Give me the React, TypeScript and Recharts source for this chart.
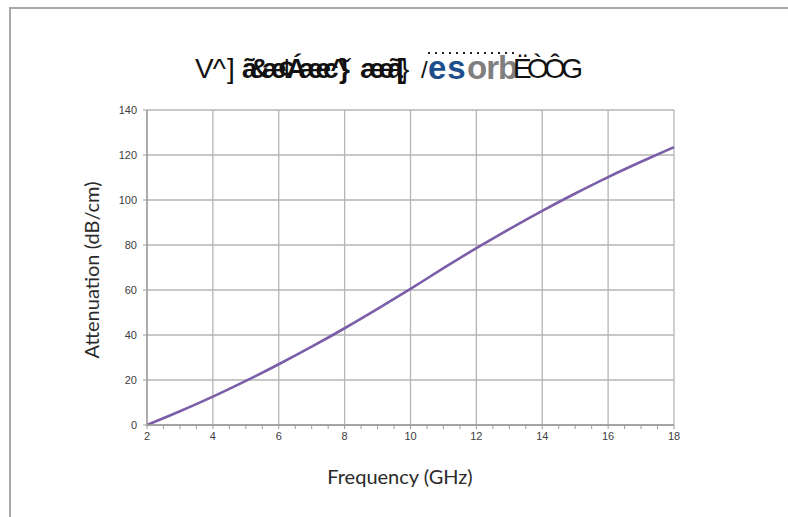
import React from 'react';
import { LineChart, Line, XAxis, YAxis, CartesianGrid, ReferenceLine } from 'recharts';

const frequencies = [2, 3, 4, 5, 6, 7, 8, 9, 10, 11, 12, 13, 14, 15, 16, 17, 18];
const attenuation = [0, 6.1, 12.6, 19.6, 27, 34.8, 43, 51.6, 60.5, 69.7, 78.6, 87.1, 95.2, 102.9, 110.2, 117, 123.5];
const majorXTicks = [2, 4, 6, 8, 10, 12, 14, 16, 18];
const allXTicks = [2, 2.5, 3, 3.5, 4, 4.5, 5, 5.5, 6, 6.5, 7, 7.5, 8, 8.5, 9, 9.5, 10, 10.5, 11, 11.5, 12, 12.5, 13, 13.5, 14, 14.5, 15, 15.5, 16, 16.5, 17, 17.5, 18];
const yTicks = [0, 20, 40, 60, 80, 100, 120, 140];

const titleA = 'V^';
const titleB = ']';
const titleC = 'ã&æ¢Áæec^}';
const titleD = 'ˇ';
const titleE = 'æeã[';
const titleF = '}';
const titleG = '/';
const titleBlue = 'es';
const titleGray = 'orb';
const titleH = 'ËÒÔG';
const xTitle = 'Frequency (GHz)';
const yTitle = 'Attenuation (dB/cm)';

const data = frequencies.map((f, i) => ({ f, a: attenuation[i] }));

const AXIS = '#9a9a9a';
const GRID = '#b5b5b5';
const TICKFONT = { fontFamily: '"Liberation Sans", Arial, sans-serif', fontSize: 11, fill: '#404040' };

export default function App() {
  return (
    <div style={{ position: 'absolute', left: 0, top: 0, width: 788, height: 517, overflow: 'hidden', background: '#fff' }}>
      <div style={{ position: 'absolute', left: 9, top: 7, width: 800, height: 540, borderLeft: '2px solid #a8a8a8', borderTop: '2px solid #a8a8a8' }} />
      <div style={{ position: 'absolute', left: 0, top: 0 }}>
        <LineChart width={788} height={517} data={data} margin={{ top: 110, right: 114, bottom: 62, left: 107 }}>
          <CartesianGrid vertical={false} stroke={GRID} strokeWidth={1.3} />
          {majorXTicks.map((t) => (
            <ReferenceLine key={t} x={t} stroke={GRID} strokeWidth={1.3} />
          ))}
          <XAxis
            dataKey="f"
            type="number"
            domain={[2, 18]}
            ticks={allXTicks}
            interval={0}
            height={30}
            tickSize={4}
            tickMargin={3}
            tickFormatter={(v: number) => (v % 2 === 0 ? String(v) : '')}
            tick={TICKFONT}
            stroke={AXIS}
            axisLine={{ stroke: AXIS, strokeWidth: 1.3 }}
            tickLine={{ stroke: AXIS }}
          />
          <YAxis
            type="number"
            domain={[0, 140]}
            ticks={yTicks}
            interval={0}
            width={40}
            tickSize={4}
            tickMargin={6}
            tick={TICKFONT}
            axisLine={{ stroke: AXIS, strokeWidth: 1.3 }}
            tickLine={{ stroke: AXIS }}
          />
          <Line
            dataKey="a"
            type="monotone"
            stroke="#7a5ea8"
            strokeWidth={2.6}
            dot={false}
            isAnimationActive={false}
          />
        </LineChart>
      </div>
      <svg width={788} height={517} style={{ position: 'absolute', left: 0, top: 0, pointerEvents: 'none' }}>
        <text y={78} fontFamily='"Liberation Sans", Arial, sans-serif' fontSize={28} fill="#111">
          <tspan x={195} style={{ letterSpacing: '-1px' }}>{titleA}</tspan>
          <tspan x={227}>{titleB}</tspan>
          <tspan x={242} style={{ letterSpacing: '-8px' }} fontWeight="bold">{titleC}</tspan>
          <tspan x={342}>{titleD}</tspan>
          <tspan x={360} style={{ letterSpacing: '-6.5px' }} fontWeight="bold">{titleE}</tspan>
          <tspan x={400}>{titleF}</tspan>
          <tspan x={421} fontSize={24}>{titleG}</tspan>
          <tspan x={428} y={79} fontSize={33} fontWeight="bold" fill="#1d4f8c" style={{ letterSpacing: '1px' }}>{titleBlue}</tspan>
          <tspan x={467} y={79} fontSize={33} fontWeight="bold" fill="#7f7f7f" style={{ letterSpacing: '-1px' }}>{titleGray}</tspan>
          <tspan x={513} y={78} style={{ letterSpacing: '-4.7px' }}>{titleH}</tspan>
        </text>
        <line x1={428} y1={53} x2={518} y2={53} stroke="#222" strokeWidth={2} strokeDasharray="2 5" />
        <text x={400} y={484} textAnchor="middle" fontFamily="Lato, 'Open Sans', sans-serif" fontSize={20} fill="#2a2a2a">{xTitle}</text>
        <text x={0} y={0} transform="translate(99, 270) rotate(-90)" textAnchor="middle" fontFamily="Lato, 'Open Sans', sans-serif" fontSize={20} fill="#2a2a2a">{yTitle}</text>
      </svg>
    </div>
  );
}
